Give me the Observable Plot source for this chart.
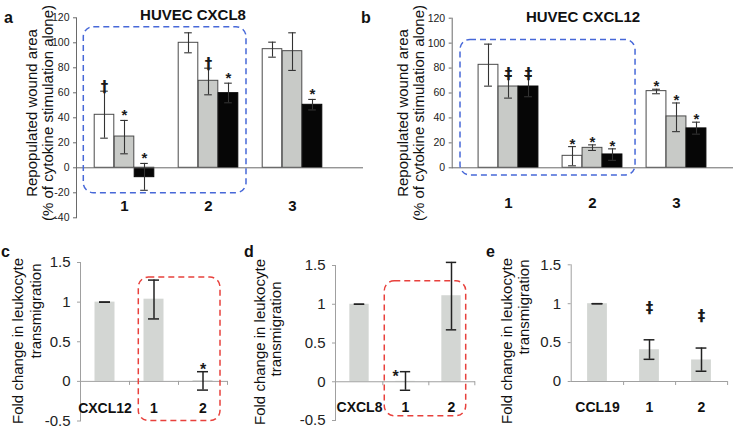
<!DOCTYPE html>
<html><head><meta charset="utf-8">
<script src="https://cdn.jsdelivr.net/npm/d3@7"></script>
<script src="https://cdn.jsdelivr.net/npm/@observablehq/plot@0.6"></script>
<style>
html,body{margin:0;padding:0;background:#fff;}
#root{position:relative;width:737px;height:430px;overflow:hidden;}
#root svg{position:absolute;left:0;top:0;}
</style></head><body><div id="root"></div>
<script>
// ---------------- DATA ----------------
const groupsAB = ["1", "2", "3"];
// Panel a – HUVEC CXCL8
const aWhite   = [42.4, 100, 94.9];
const aWhiteLo = [23.7, 92, 88.5];
const aWhiteHi = [61.3, 108, 100.5];
const aGray    = [25, 69.6, 93.3];
const aGrayLo  = [11.2, 58.4, 77.9];
const aGrayHi  = [37.9, 79.7, 108];
const aBlack   = [-7.5, 59.7, 50.4];
const aBlackLo = [-18, 52, 46.3];
const aBlackHi = [3.5, 67.7, 54.7];
const aSig = [["1","white","†"],["1","gray","*"],["1","black","*"],["2","gray","†"],["2","black","*"],["3","black","*"]];
const aTicks = [-40, -20, 0, 20, 40, 60, 80, 100, 120];
// Panel b – HUVEC CXCL12
const bWhite   = [82.6, 9.6, 61.5];
const bWhiteLo = [65.5, 1.6, 59.4];
const bWhiteHi = [99.2, 17, 63];
const bGray    = [65.2, 16, 41.2];
const bGrayLo  = [55.9, 13.9, 29];
const bGrayHi  = [74, 18.4, 52];
const bBlack   = [65.2, 10.7, 31.6];
const bBlackLo = [57, 6, 27];
const bBlackHi = [74, 15.2, 36.6];
const bSig = [["1","gray","‡"],["1","black","‡"],["2","white","*"],["2","gray","*"],["2","black","*"],["3","white","*"],["3","gray","*"],["3","black","*"]];
const bTicks = [0, 20, 40, 60, 80, 100, 120];
// Panel c
const cCats = ["CXCL12", "1", "2"];
const cVal = [1.0, 1.037, 0.01];
const cLo  = [1.0, 0.788, -0.11];
const cHi  = [1.0, 1.278, 0.122];
const cSig = [["2", "*"]];
// Panel d
const dCats = ["CXCL8", "1", "2"];
const dVal = [1.0, 0.005, 1.11];
const dLo  = [1.0, -0.11, 0.67];
const dHi  = [1.0, 0.13, 1.54];
const dSig = [["1", "*"]];
// Panel e
const eCats = ["CCL19", "1", "2"];
const eVal = [1.0, 0.408, 0.277];
const eLo  = [1.0, 0.285, 0.132];
const eHi  = [1.0, 0.536, 0.43];
const eSig = [["1", "‡"], ["2", "‡"]];
const cdTicks = [-0.5, 0, 0.5, 1, 1.5];
const eTicks = [0, 0.5, 1, 1.5];
const yTitleAB = ["Repopulated wound area", "(% of cytokine stimulation alone)"];
const yTitleCDE = ["Fold change in leukocyte", "transmigration"];

// ---------------- LAYOUT ----------------
const W = 737, H = 430;
const FONT = '"Liberation Sans", Arial, Helvetica, sans-serif';
const DAGGER_FONT = '"DejaVu Sans", "Liberation Sans", sans-serif';
const root = document.getElementById("root");
const baseStyle = {background: "transparent", fontFamily: FONT, fontSize: "10px", color: "#222", overflow: "visible"};
const margins = (l, r, t, b) => ({marginLeft: l, marginRight: W - r, marginTop: t, marginBottom: H - b});
const isStar = t => t === "*";

function abPanel({frame, xRange, yDomain, yTicks, series, sig, sigDy, labelDy}) {
  const bw = (xRange[1] - xRange[0]) / groupsAB.length;
  const barW = 20, capW = 8;
  const offs = {white: -20, gray: 0, black: 20};
  const fills = {white: "#ffffff", gray: "#c8cac7", black: "#060606"};
  const rows = [];
  for (const s of series) s.v.forEach((v, i) => rows.push({group: groupsAB[i], series: s.key, value: v, lo: s.lo[i], hi: s.hi[i]}));
  const marks = [
    Plot.axisY(yTicks, {tickSize: 3, tickPadding: 4, fontSize: 10.5, stroke: "#6a6a6a", color: "#222", tickFormat: d => String(d), label: null}),
    Plot.frame({anchor: "left", stroke: "#6a6a6a"})
  ];
  for (const s of series) {
    const r = rows.filter(d => d.series === s.key);
    marks.push(Plot.barY(r, {x: "group", y: "value", dx: offs[s.key], fill: fills[s.key],
      stroke: s.key === "black" ? "#060606" : "#4a4a4a", strokeWidth: 1,
      insetLeft: (bw - barW) / 2, insetRight: (bw - barW) / 2}));
  }
  marks.push(Plot.ruleY([0], {stroke: "#6a6a6a"}));
  for (const s of series) {
    const r = rows.filter(d => d.series === s.key);
    const dx = offs[s.key];
    marks.push(Plot.ruleX(r, {x: "group", y1: "lo", y2: "hi", dx, stroke: "#333", strokeWidth: 1.1}));
    marks.push(Plot.tickY(r, {x: "group", y: "lo", dx, stroke: "#333", strokeWidth: 1.1, insetLeft: (bw - capW) / 2, insetRight: (bw - capW) / 2}));
    marks.push(Plot.tickY(r, {x: "group", y: "hi", dx, stroke: "#333", strokeWidth: 1.1, insetLeft: (bw - capW) / 2, insetRight: (bw - capW) / 2}));
    const sr = sig.filter(d => d[1] === s.key).map(d => ({group: d[0], t: d[2], hi: rows.find(r0 => r0.group === d[0] && r0.series === s.key).hi}));
    marks.push(Plot.text(sr.filter(d => isStar(d.t)), {x: "group", y: "hi", text: "t", dx, dy: sigDy, lineAnchor: "bottom", fontSize: 15, fontWeight: "bold", fill: "#1a1a1a"}));
    marks.push(Plot.text(sr.filter(d => !isStar(d.t)), {x: "group", y: "hi", text: "t", dx, dy: sigDy + 1, lineAnchor: "bottom", fontSize: 15, fontWeight: "bold", fontFamily: DAGGER_FONT, fill: "#1a1a1a"}));
  }
  marks.push(Plot.text(groupsAB, {x: d => d, frameAnchor: "bottom", dy: labelDy, lineAnchor: "middle", fontSize: 15, fontWeight: "bold", fill: "#111"}));
  return Plot.plot({
    width: W, height: H, ...margins(...frame),
    style: baseStyle,
    x: {type: "band", domain: groupsAB, range: xRange, padding: 0, axis: null},
    y: {domain: yDomain, axis: null},
    marks
  });
}

function cdePanel({cats, vals, lo, hi, frame, xRange, yDomain, yTicks, sig, sigOpts, labelDy, tickPad}) {
  const bw = (xRange[1] - xRange[0]) / cats.length;
  const barW = 20, capW = 11;
  const rows = cats.map((c, i) => ({cat: c, value: vals[i], lo: lo[i], hi: hi[i]}));
  const sr = sig.map(d => ({cat: d[0], t: d[1], hi: rows.find(r => r.cat === d[0]).hi}));
  const star = sr.length && isStar(sr[0].t);
  return Plot.plot({
    width: W, height: H, ...margins(...frame),
    style: baseStyle,
    x: {type: "band", domain: cats, range: xRange, padding: 0, axis: null},
    y: {domain: yDomain, axis: null},
    marks: [
      Plot.axisY(yTicks, {tickSize: 3, tickPadding: tickPad, fontSize: 15, stroke: "#a0a0a0", color: "#222", tickFormat: d => String(d), label: null}),
      Plot.frame({anchor: "left", stroke: "#a0a0a0"}),
      Plot.barY(rows, {x: "cat", y: "value", fill: "#d3d6d3", insetLeft: (bw - barW) / 2, insetRight: (bw - barW) / 2}),
      Plot.ruleY([0], {stroke: "#a0a0a0"}),
      Plot.ruleX(cats, {x: d => d, dx: bw / 2, y1: 0, y2: 0, insetBottom: -4, stroke: "#a0a0a0"}),
      Plot.ruleX(rows, {x: "cat", y1: "lo", y2: "hi", stroke: "#222", strokeWidth: 1.5}),
      Plot.tickY(rows, {x: "cat", y: "lo", stroke: "#222", strokeWidth: 1.5, insetLeft: (bw - capW) / 2, insetRight: (bw - capW) / 2}),
      Plot.tickY(rows, {x: "cat", y: "hi", stroke: "#222", strokeWidth: 1.5, insetLeft: (bw - capW) / 2, insetRight: (bw - capW) / 2}),
      Plot.text(sr, {x: "cat", y: "hi", text: "t", fontSize: star ? 16 : 15, fontWeight: "bold", fontFamily: star ? FONT : DAGGER_FONT, fill: "#1a1a1a", ...sigOpts}),
      Plot.text(cats, {x: d => d, frameAnchor: "bottom", dy: labelDy, lineAnchor: "middle", fontSize: 14, fontWeight: "bold", fill: "#111"})
    ]
  });
}

// ----- geometry constants -----
const A = {frame: [76, 363, 17.3, 217.3], xRange: [81.6, 334.8], yDomain: [-40, 120]};
const B = {frame: [451.7, 733, 17.7, 167.3], xRange: [466.2, 718.7], yDomain: [0, 120]};
const C = {frame: [80, 227, 262, 420.5], xRange: [80, 227], yDomain: [-0.5, 1.5]};
const D = {frame: [335, 475, 265, 420], xRange: [335, 475], yDomain: [-0.5, 1.5]};
const E = {frame: [570.7, 727.3, 264.3, 381], xRange: [570.7, 727.3], yDomain: [0, 1.5]};

root.append(abPanel({...A, yTicks: aTicks, sig: aSig, sigDy: 0, labelDy: -12, series: [
  {key: "white", v: aWhite, lo: aWhiteLo, hi: aWhiteHi},
  {key: "gray", v: aGray, lo: aGrayLo, hi: aGrayHi},
  {key: "black", v: aBlack, lo: aBlackLo, hi: aBlackHi}]}));
root.append(abPanel({...B, yTicks: bTicks, sig: bSig, sigDy: 2, labelDy: 35, series: [
  {key: "white", v: bWhite, lo: bWhiteLo, hi: bWhiteHi},
  {key: "gray", v: bGray, lo: bGrayLo, hi: bGrayHi},
  {key: "black", v: bBlack, lo: bBlackLo, hi: bBlackHi}]}));
root.append(cdePanel({...C, cats: cCats, vals: cVal, lo: cLo, hi: cHi, yTicks: cdTicks, sig: cSig, tickPad: 7,
  sigOpts: {lineAnchor: "bottom", dy: 3}, labelDy: -12}));
root.append(cdePanel({...D, cats: dCats, vals: dVal, lo: dLo, hi: dHi, yTicks: cdTicks, sig: dSig, tickPad: 7,
  sigOpts: {lineAnchor: "top", dx: -10, dy: -1}, labelDy: -13}));
root.append(cdePanel({...E, cats: eCats, vals: eVal, lo: eLo, hi: eHi, yTicks: eTicks, sig: eSig, tickPad: 7,
  sigOpts: {lineAnchor: "middle", dy: -32}, labelDy: 26}));

// ----- overlay: panel letters, titles, axis titles, highlight boxes -----
const ov = d3.select(root).append("svg").attr("width", W).attr("height", H)
  .style("font-family", FONT).style("overflow", "visible");

const band = (cfg, dom) => d3.scaleBand(dom, cfg.xRange);
const lin = cfg => d3.scaleLinear(cfg.yDomain, [cfg.frame[3], cfg.frame[2]]);
function box(x1, x2, y1, y2, color) {
  ov.append("rect").attr("x", x1).attr("y", y1).attr("width", x2 - x1).attr("height", y2 - y1)
    .attr("rx", 10).attr("fill", "none").attr("stroke", color).attr("stroke-width", 1.5).attr("stroke-dasharray", "6,4");
}
{ const x = band(A, groupsAB), y = lin(A);
  box(x("1") + 1.7, x("2") + x.bandwidth() - 4.4, y(112.5), y(-20.3), "#4768d8"); }
{ const x = band(B, groupsAB), y = lin(B);
  box(x("1") - 6.2, x("2") + x.bandwidth() + 0.5, y(102.6), y(-6.2), "#4768d8"); }
{ const x = band(C, cCats), y = lin(C);
  box(x("1") + 9.3, x("2") + x.bandwidth() - 7, y(1.31), y(-0.5), "#e8413c"); }
{ const x = band(D, dCats), y = lin(D);
  box(x("1") + 2.6, x("2") + x.bandwidth() - 9.3, y(1.297), y(-0.445), "#e8413c"); }

const letters = [["a", 4, 23], ["b", 361, 23], ["c", 1, 257], ["d", 244, 257], ["e", 486, 257]];
for (const [t, x, y] of letters)
  ov.append("text").attr("x", x).attr("y", y).attr("font-size", 16).attr("font-weight", "bold").attr("fill", "#111").text(t);

ov.append("text").attr("x", 193).attr("y", 20).attr("text-anchor", "middle").attr("font-size", 15).attr("font-weight", "bold").attr("fill", "#111").text("HUVEC CXCL8");
ov.append("text").attr("x", 583).attr("y", 21.5).attr("text-anchor", "middle").attr("font-size", 15).attr("font-weight", "bold").attr("fill", "#111").text("HUVEC CXCL12");

function vtitle(x, y, t) {
  ov.append("text").attr("transform", `translate(${x},${y}) rotate(-90)`).attr("text-anchor", "middle")
    .attr("dominant-baseline", "central").attr("font-size", 15).attr("fill", "#111").text(t);
}
vtitle(31, 113, yTitleAB[0]); vtitle(47, 113, yTitleAB[1]);
vtitle(402, 113, yTitleAB[0]); vtitle(418, 113, yTitleAB[1]);
vtitle(17, 341, yTitleCDE[0]); vtitle(35, 311, yTitleCDE[1]);
vtitle(259, 342, yTitleCDE[0]); vtitle(275, 329, yTitleCDE[1]);
vtitle(506, 341, yTitleCDE[0]); vtitle(523, 307, yTitleCDE[1]);
</script></body></html>
